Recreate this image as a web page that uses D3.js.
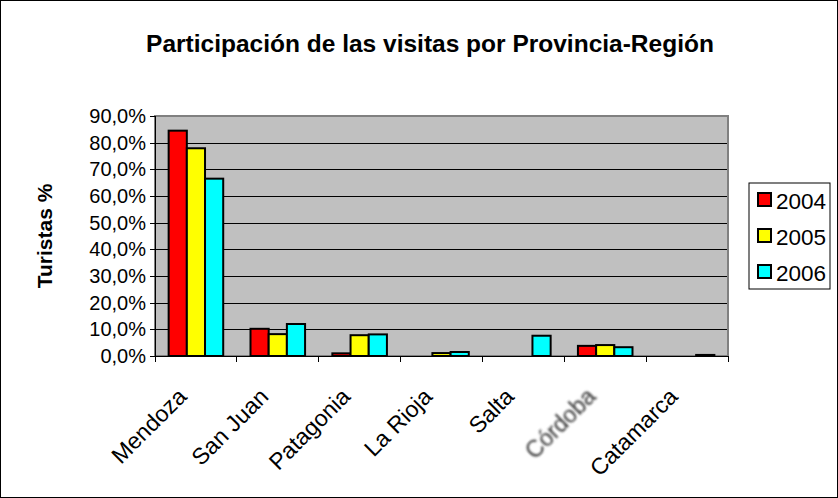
<!DOCTYPE html>
<html>
<head>
<meta charset="utf-8">
<script src="https://cdn.jsdelivr.net/npm/d3@7"></script>
<style>
  body { margin: 0; background: #fff; }
  text { font-family: Arial, "Liberation Sans", sans-serif; }
</style>
</head>
<body>
<svg id="chart" width="838" height="498"></svg>
<script>
const categories = ['Mendoza', 'San Juan', 'Patagonia', 'La Rioja', 'Salta', 'Córdoba', 'Catamarca'];
const years = ['2004', '2005', '2006'];
const values2004 = [84.5, 10.2, 1.0, 0, 0, 3.8, 0];
const values2005 = [77.9, 8.2, 7.8, 1.1, 0, 4.1, 0];
const values2006 = [66.5, 12.0, 8.1, 1.5, 7.6, 3.3, 0.4];
const yTicks = [0, 10, 20, 30, 40, 50, 60, 70, 80, 90];
const colors = ['#ff0000', '#ffff00', '#00ffff'];

const series = [values2004, values2005, values2006];
const svg = d3.select('#chart');
const plot = { left: 155, top: 116, right: 728, bottom: 356 };

// outer frame
svg.append('rect')
  .attr('x', 0.5).attr('y', 0.5)
  .attr('width', 837).attr('height', 497)
  .attr('fill', '#fff').attr('stroke', '#000');

svg.append('text')
  .attr('x', 430).attr('y', 52)
  .attr('text-anchor', 'middle')
  .attr('font-size', 24.5).attr('font-weight', 'bold')
  .text('Participación de las visitas por Provincia-Región');

const x = d3.scaleBand()
  .domain(categories)
  .range([plot.left, plot.right]);

const x1 = d3.scaleBand()
  .domain(years)
  .range([0, x.bandwidth()])
  .paddingOuter(0.75);

const y = d3.scaleLinear()
  .domain([0, 90])
  .range([plot.bottom, plot.top]);

// plot background
svg.append('rect')
  .attr('x', plot.left).attr('y', plot.top)
  .attr('width', plot.right - plot.left).attr('height', plot.bottom - plot.top)
  .attr('fill', '#c0c0c0');

// grid
svg.append('g')
  .attr('transform', `translate(${plot.left},0)`)
  .call(d3.axisLeft(y).tickValues(yTicks).tickSize(-(plot.right - plot.left)).tickFormat(''))
  .call(g => g.select('.domain').remove())
  .selectAll('.tick line')
  .attr('stroke', '#000')
  .attr('shape-rendering', 'crispEdges');

// plot border (gray)
svg.append('rect')
  .attr('x', plot.left).attr('y', plot.top)
  .attr('width', plot.right - plot.left).attr('height', plot.bottom - plot.top)
  .attr('fill', 'none').attr('stroke', '#808080').attr('stroke-width', 2);

// bars
const groups = svg.append('g')
  .selectAll('g')
  .data(categories)
  .join('g')
  .attr('transform', d => `translate(${x(d)},0)`);

groups.selectAll('rect')
  .data((d, i) => years.map((yr, k) => ({ yr, v: series[k][i], k })).filter(b => b.v > 0))
  .join('rect')
  .attr('x', d => x1(d.yr))
  .attr('y', d => y(d.v))
  .attr('width', x1.bandwidth())
  .attr('height', d => y(0) - y(d.v))
  .attr('fill', d => colors[d.k])
  .attr('stroke', '#000')
  .attr('stroke-width', 2);

// y axis
const yAxis = svg.append('g')
  .attr('transform', `translate(${plot.left},0)`)
  .call(d3.axisLeft(y).tickValues(yTicks).tickSize(5).tickPadding(4)
    .tickFormat(d => d3.format('.1f')(d).replace('.', ',') + '%'));
yAxis.selectAll('text').attr('font-size', 20).attr('fill', '#000');
yAxis.selectAll('line, path').attr('stroke', '#000').attr('shape-rendering', 'crispEdges');

// x axis
const xAxis = svg.append('g')
  .attr('transform', `translate(0,${plot.bottom})`)
  .call(d3.axisBottom(x).tickValues([]).tickSizeOuter(0));
xAxis.select('.domain').attr('stroke', '#000').attr('shape-rendering', 'crispEdges');

const boundaries = categories.map(c => x(c)).concat([plot.right]);
xAxis.selectAll('line.cat')
  .data(boundaries)
  .join('line')
  .attr('class', 'cat')
  .attr('x1', d => d).attr('x2', d => d)
  .attr('y1', 0).attr('y2', 6)
  .attr('stroke', '#000')
  .attr('shape-rendering', 'crispEdges');

svg.append('defs').append('filter').attr('id', 'blur')
  .append('feGaussianBlur').attr('stdDeviation', 0.8);

svg.append('g')
  .selectAll('text')
  .data(categories)
  .join('text')
  .attr('transform', d => `translate(${x(d) + x.bandwidth() / 2 - 8},${plot.bottom + 42}) rotate(-45)`)
  .attr('text-anchor', 'end')
  .attr('font-size', 23)
  .attr('fill', d => d === 'Córdoba' ? '#333' : '#000')
  .attr('filter', d => d === 'Córdoba' ? 'url(#blur)' : null)
  .text(d => d);

// y label
svg.append('text')
  .attr('transform', `translate(52,${(plot.top + plot.bottom) / 2}) rotate(-90)`)
  .attr('text-anchor', 'middle')
  .attr('font-size', 21).attr('font-weight', 'bold')
  .text('Turistas %');

// legend
const legend = svg.append('g').attr('transform', 'translate(749,183)');
legend.append('rect')
  .attr('width', 81).attr('height', 106)
  .attr('fill', '#fff').attr('stroke', '#000');
const items = legend.selectAll('g')
  .data(years)
  .join('g')
  .attr('transform', (d, i) => `translate(0,${17 + i * 36})`);
items.append('rect')
  .attr('x', 9).attr('y', -7).attr('width', 13).attr('height', 13)
  .attr('fill', (d, i) => colors[i])
  .attr('stroke', '#000').attr('stroke-width', 2);
items.append('text')
  .attr('x', 27).attr('y', 8.5)
  .attr('font-size', 22.5)
  .text(d => d);
</script>
</body>
</html>
